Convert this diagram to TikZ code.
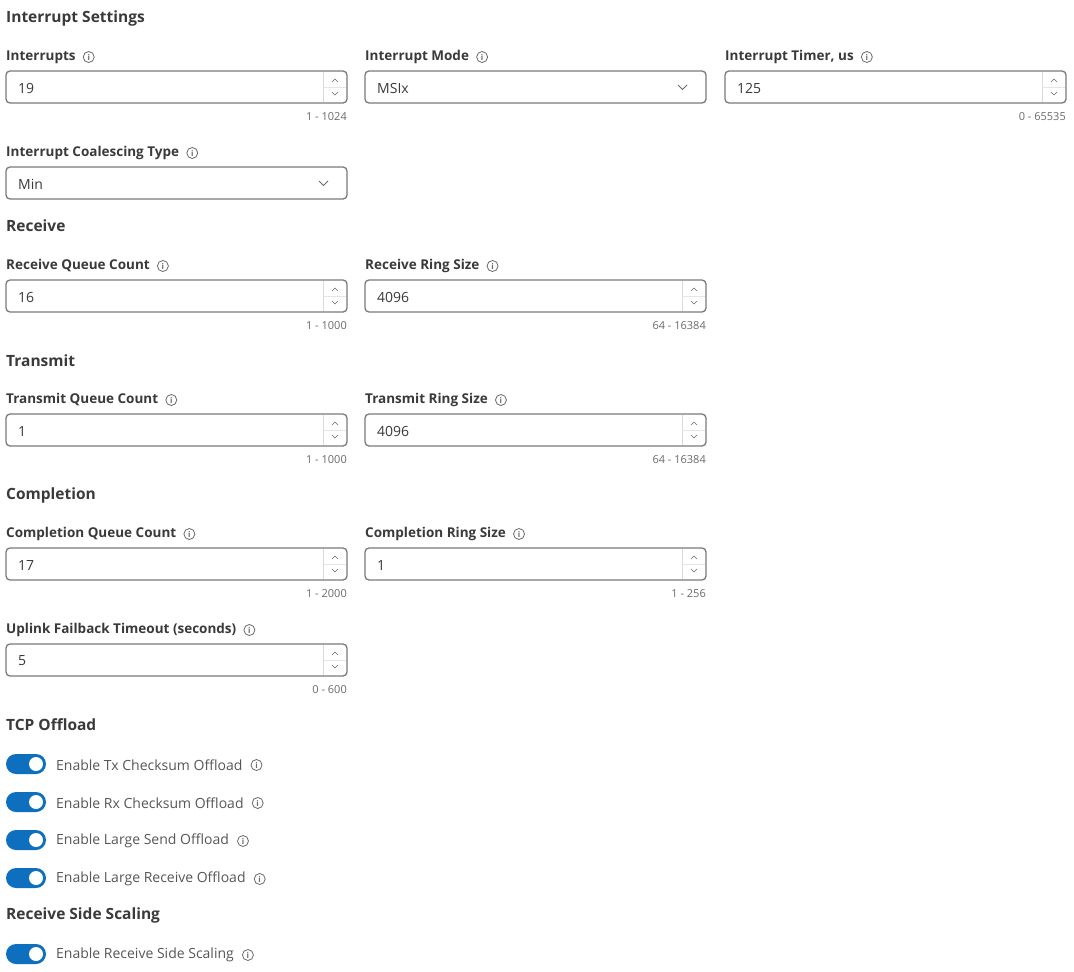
\documentclass[tikz,border=0pt]{standalone}
\usepackage{fontspec}
\setmainfont{Open Sans}
\usetikzlibrary{positioning}
\definecolor{txt}{HTML}{3A3A3A}
\definecolor{sub}{HTML}{6B6B6B}
\definecolor{frame}{HTML}{7A7A7A}
\definecolor{toggleblue}{HTML}{0E6FBE}
\tikzset{
  head/.style={anchor=west, inner sep=0, font=\fontsize{15.5}{15.5}\selectfont\bfseries, text=txt, yshift=-1pt},
  lbl/.style={anchor=west, inner sep=0, font=\fontsize{13.5}{13.5}\selectfont\bfseries, text=txt, yshift=-1pt},
  info/.style={circle, draw=sub, line width=0.8pt, minimum size=11pt, inner sep=0, text=sub, font=\fontsize{8}{8}\selectfont\bfseries},
  val/.style={anchor=west, inner sep=0, font=\fontsize{14}{14}\selectfont, text=txt, yshift=-1pt},
  limits/.style={anchor=east, inner sep=0, font=\fontsize{11}{11}\selectfont, text=sub},
  fieldbox/.style={draw=frame, line width=1.3pt, rounded corners=4pt, fill=white},
  chev/.style={draw=sub, line width=0.6pt},
  opt/.style={anchor=west, inner sep=0, font=\fontsize{14}{14}\selectfont, text=txt!85, yshift=-1pt},
}
% label with info icon
\newcommand{\uilabel}[4]{%
  \node[lbl] (#1) at (#2,#3) {#4};
  \node[info, right=7pt of #1] (#1i) {i};}
% number field with spinner
\newcommand{\spinbox}[5]{%
  \draw[fieldbox] (#2,#3) rectangle ++(341,32);
  \draw[black!15] (#2+317,#3+1) -- (#2+317,#3+31);
  \draw[black!10] (#2+317,#3+16) -- (#2+340,#3+16);
  \draw[chev] (#2+326,#3+11) -- (#2+329,#3+8) -- (#2+332,#3+11);
  \draw[chev] (#2+326,#3+21) -- (#2+329,#3+24) -- (#2+332,#3+21);
  \node[val] (#1) at (#2+12,#3+16) {#4};
  \node[limits] (#1r) at (#2+341,#3+46) {#5};}
% dropdown field
\newcommand{\dropbox}[4]{%
  \draw[fieldbox] (#2,#3) rectangle ++(341,32);
  \draw[chev, line width=0.9pt] (#2+313,#3+14) -- (#2+317.5,#3+18.5) -- (#2+322,#3+14);
  \node[val] (#1) at (#2+12,#3+16) {#4};}
% switch
\newcommand{\switch}[3]{%
  \fill[toggleblue, rounded corners=10pt] (6,#2-10) rectangle (46,#2+10);
  \fill[white] (36,#2) circle (7);
  \node[opt] (#1) at (56,#2) {#3};
  \node[info, right=8pt of #1] (#1i) {i};}
\begin{document}
\begin{tikzpicture}[x=1pt, y=-1pt]
\fill[white] (0,0) rectangle (1074,972);
\useasboundingbox (0,0) rectangle (1074,972);

\node[head] (intset) at (6,17) {Interrupt Settings};
\uilabel{intl}{6}{56}{Interrupts}
\spinbox{intv}{6}{71}{19}{1 - 1024}
\uilabel{model}{365}{56}{Interrupt Mode}
\dropbox{modev}{365}{71}{MSIx}
\uilabel{timerl}{725}{56}{Interrupt Timer, us}
\spinbox{timerv}{725}{71}{125}{0 - 65535}
\uilabel{coall}{6}{152}{Interrupt Coalescing Type}
\dropbox{coalv}{6}{167}{Min}

\node[head] (recv) at (6,225) {Receive};
\uilabel{rqcl}{6}{265}{Receive Queue Count}
\spinbox{rqcv}{6}{280}{16}{1 - 1000}
\uilabel{rrsl}{365}{265}{Receive Ring Size}
\spinbox{rrsv}{365}{280}{4096}{64 - 16384}

\node[head] (trans) at (6,360) {Transmit};
\uilabel{tqcl}{6}{399}{Transmit Queue Count}
\spinbox{tqcv}{6}{414}{1}{1 - 1000}
\uilabel{trsl}{365}{399}{Transmit Ring Size}
\spinbox{trsv}{365}{414}{4096}{64 - 16384}

\node[head] (compl) at (6,494) {Completion};
\uilabel{cqcl}{6}{533}{Completion Queue Count}
\spinbox{cqcv}{6}{548}{17}{1 - 2000}
\uilabel{crsl}{365}{533}{Completion Ring Size}
\spinbox{crsv}{365}{548}{1}{1 - 256}
\uilabel{ufl}{6}{629}{Uplink Failback Timeout (seconds)}
\spinbox{ufv}{6}{644}{5}{0 - 600}

\node[head] (tcp) at (6,724) {TCP Offload};
\switch{txck}{764}{Enable Tx Checksum Offload}
\switch{rxck}{802}{Enable Rx Checksum Offload}
\switch{lso}{840}{Enable Large Send Offload}
\switch{lro}{878}{Enable Large Receive Offload}

\node[head] (rss) at (6,914) {Receive Side Scaling};
\switch{rssen}{954}{Enable Receive Side Scaling}
\end{tikzpicture}
\end{document}
